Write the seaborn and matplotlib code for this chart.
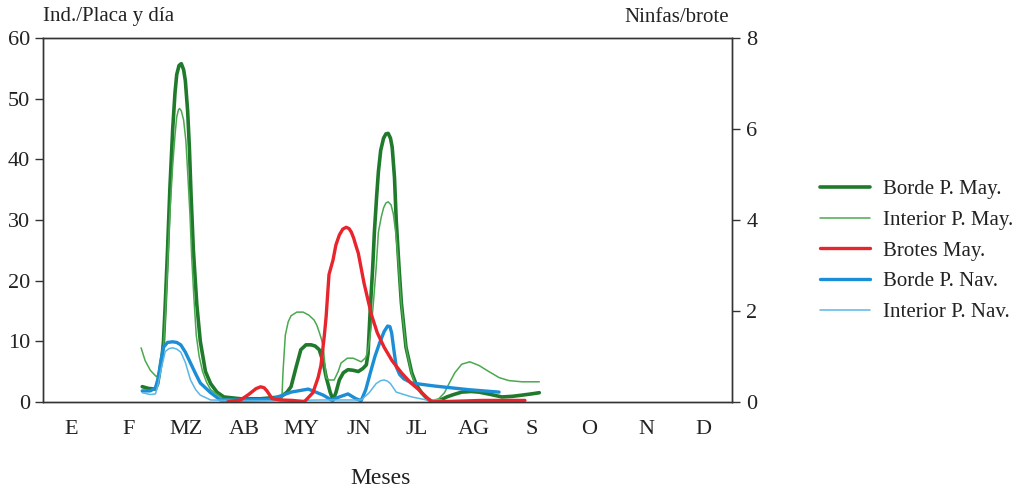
import matplotlib
matplotlib.use("Agg")
import matplotlib.pyplot as plt
import seaborn as sns
from matplotlib.lines import Line2D

# ---- data (x in month units: 0 = start of January, 12 = end of December) ----
months = ["E", "F", "MZ", "AB", "MY", "JN", "JL", "AG", "S", "O", "N", "D"]

borde_may_x = [1.73, 1.84, 1.96, 2.00, 2.05, 2.08, 2.10, 2.13, 2.17, 2.21, 2.26, 2.30, 2.33, 2.37, 2.41,
               2.45, 2.48, 2.52, 2.55, 2.58, 2.62, 2.68, 2.74, 2.83, 2.92, 3.03, 3.15, 3.44, 3.79,
               4.14, 4.25, 4.32, 4.41, 4.49, 4.58, 4.67, 4.74, 4.81, 4.88, 4.93, 5.00, 5.05, 5.10,
               5.16, 5.23, 5.31, 5.40, 5.49, 5.57, 5.63, 5.66, 5.70, 5.74, 5.77, 5.81, 5.84, 5.88,
               5.93, 5.97, 6.01, 6.05, 6.08, 6.12, 6.15, 6.20, 6.24, 6.32, 6.42, 6.50, 6.59, 6.70,
               6.80, 6.92, 7.03, 7.15, 7.29, 7.45, 7.59, 7.80, 7.99, 8.17, 8.34, 8.50, 8.64]
borde_may_y = [2.5, 2.2, 2.1, 3.0, 6.0, 8.0, 10.0, 16.0, 25.0, 35.0, 45.0, 51.0, 54.0, 55.5, 55.8,
               54.8, 53.0, 48.0, 42.0, 34.0, 25.0, 16.0, 10.0, 5.0, 3.0, 1.6, 0.8, 0.5, 0.5,
               0.8, 1.6, 2.5, 5.8, 8.6, 9.4, 9.4, 9.2, 8.6, 6.5, 4.1, 1.6, 0.3, 1.5,
               3.6, 4.8, 5.3, 5.2, 5.0, 5.5, 6.1, 8.0, 15.6, 22.0, 28.0, 34.0, 38.0, 41.5,
               43.5, 44.2, 44.3, 43.5, 42.0, 37.0, 30.0, 22.0, 16.3, 9.0, 4.8, 2.8, 1.5, 0.4,
               0.0, 0.3, 0.8, 1.2, 1.6, 1.7, 1.6, 1.2, 0.8, 0.9, 1.1, 1.3, 1.5]

interior_may_x = [1.71, 1.78, 1.87, 1.98, 2.05, 2.10, 2.13, 2.17, 2.21, 2.26, 2.30, 2.33, 2.36, 2.38,
                  2.41, 2.45, 2.49, 2.52, 2.56, 2.59, 2.63, 2.67, 2.72, 2.78, 2.85, 2.92, 3.13, 3.44,
                  3.97, 4.16, 4.18, 4.22, 4.27, 4.32, 4.42, 4.53, 4.63, 4.72, 4.77, 4.81, 4.85, 4.88,
                  4.93, 4.98, 5.07, 5.14, 5.19, 5.30, 5.40, 5.54, 5.62, 5.66, 5.71, 5.75, 5.80, 5.84,
                  5.89, 5.93, 5.97, 6.01, 6.06, 6.10, 6.14, 6.17, 6.24, 6.32, 6.42, 6.50, 6.59, 6.77,
                  6.89, 6.99, 7.08, 7.17, 7.29, 7.43, 7.59, 7.76, 7.94, 8.11, 8.34, 8.64]
interior_may_y = [8.9, 6.8, 5.2, 4.1, 5.5, 9.0, 14.0, 22.0, 31.0, 39.0, 44.0, 47.0, 48.2, 48.4,
                  48.0, 46.5, 43.0, 38.0, 31.0, 24.0, 17.0, 11.0, 7.5, 5.0, 3.2, 2.0, 0.5, 0.3,
                  0.3, 0.5, 5.0, 11.0, 13.2, 14.2, 14.8, 14.8, 14.3, 13.5, 12.6, 11.5, 10.3, 9.0,
                  4.0, 3.6, 3.6, 5.0, 6.4, 7.2, 7.2, 6.6, 7.3, 8.6, 12.0, 16.0, 22.0, 28.0,
                  30.5, 32.0, 32.8, 33.0, 32.5, 31.0, 28.0, 25.0, 16.0, 9.0, 4.5, 2.5, 1.3, 0.2,
                  0.5, 1.5, 3.2, 4.8, 6.2, 6.6, 6.0, 5.0, 4.0, 3.5, 3.3, 3.3]

# Brotes May. read on the right axis (Ninfas/brote)
brotes_x = [3.22, 3.44, 3.58, 3.71, 3.79, 3.85, 3.90, 3.99, 4.14, 4.35, 4.55, 4.70, 4.79, 4.84, 4.90,
            4.93, 4.98, 5.05, 5.10, 5.16, 5.22, 5.28, 5.33, 5.37, 5.41, 5.44, 5.49, 5.59, 5.72,
            5.82, 5.94, 6.08, 6.24, 6.40, 6.54, 6.66, 6.77, 7.12, 7.64, 8.39]
brotes_y = [0.0, 0.04, 0.16, 0.29, 0.33, 0.31, 0.24, 0.07, 0.04, 0.03, 0.0, 0.2, 0.53, 0.8, 1.47,
            1.87, 2.8, 3.12, 3.45, 3.67, 3.80, 3.84, 3.81, 3.73, 3.6, 3.47, 3.27, 2.61, 1.91,
            1.52, 1.2, 0.9, 0.64, 0.42, 0.27, 0.12, 0.0, 0.01, 0.03, 0.03]

borde_nav_x = [1.73, 1.87, 1.96, 2.01, 2.05, 2.10, 2.17, 2.26, 2.33, 2.40, 2.48, 2.57, 2.66, 2.74, 2.92,
               3.09, 3.44, 3.97, 4.32, 4.62, 4.88, 5.02, 5.16, 5.31, 5.45, 5.54, 5.62, 5.70, 5.78,
               5.86, 5.94, 6.00, 6.04, 6.07, 6.11, 6.15, 6.21, 6.28, 6.42, 6.82, 7.41, 7.94]
borde_nav_y = [1.8, 1.8, 2.3, 4.0, 6.5, 9.0, 9.8, 9.9, 9.8, 9.4, 8.2, 6.4, 4.6, 3.1, 1.5,
               0.3, 0.3, 0.4, 1.6, 2.1, 1.1, 0.3, 0.8, 1.3, 0.5, 0.2, 2.0, 4.8, 7.5,
               9.7, 11.6, 12.5, 12.4, 11.4, 8.5, 5.8, 4.5, 3.8, 3.1, 2.6, 2.0, 1.6]

interior_nav_x = [1.73, 1.87, 1.96, 2.01, 2.05, 2.13, 2.20, 2.26, 2.33, 2.40, 2.48, 2.57, 2.66, 2.74,
                  2.92, 3.44, 4.14, 4.84, 5.54, 5.68, 5.80, 5.88, 5.94, 6.00, 6.05, 6.15, 6.42, 6.68, 6.94]
interior_nav_y = [1.5, 1.2, 1.3, 3.0, 5.0, 8.3, 8.8, 8.9, 8.7, 8.2, 6.5, 3.6, 2.0, 1.1,
                  0.3, 0.2, 0.2, 0.3, 0.3, 1.5, 3.0, 3.5, 3.6, 3.4, 3.0, 1.6, 0.8, 0.3, 0.3]

labels = ["Borde P. May.", "Interior P. May.", "Brotes May.", "Borde P. Nav.", "Interior P. Nav."]

# ---- style ----
sns.set_theme(style="white")
plt.rcParams["font.family"] = ["Liberation Serif", "DejaVu Serif"]
plt.rcParams["lines.solid_joinstyle"] = "round"
plt.rcParams["lines.solid_capstyle"] = "round"

fig = plt.figure(figsize=(10.2, 4.9), dpi=100)
ax = fig.add_axes([0.042, 0.18, 0.676, 0.742])
ax2 = ax.twinx()

c_dg = "#1f7a2c"
c_lg = "#4aa84f"
c_red = "#e8242c"
c_blue = "#1b8ed6"
c_lb = "#5bb6e6"

sns.lineplot(x=borde_may_x, y=borde_may_y, ax=ax, color=c_dg, lw=2.6, sort=False, estimator=None)
sns.lineplot(x=interior_may_x, y=interior_may_y, ax=ax, color=c_lg, lw=1.1, sort=False, estimator=None)
sns.lineplot(x=borde_nav_x, y=borde_nav_y, ax=ax, color=c_blue, lw=2.4, sort=False, estimator=None)
sns.lineplot(x=interior_nav_x, y=interior_nav_y, ax=ax, color=c_lb, lw=1.1, sort=False, estimator=None)
sns.lineplot(x=brotes_x, y=brotes_y, ax=ax2, color=c_red, lw=2.4, sort=False, estimator=None)

ax.set_xlim(0, 12)
ax.set_ylim(0, 60)
ax2.set_ylim(0, 8)
ax.set_yticks(range(0, 61, 10))
ax2.set_yticks(range(0, 9, 2))

ax.set_xticks(range(0, 12))
ax.set_xticklabels([])
ax.set_xticks([i + 0.5 for i in range(12)], minor=True)
ax.set_xticklabels(months, minor=True)
ax.tick_params(axis="x", which="major", direction="out", length=6, width=1, color="#333333")
ax.tick_params(axis="x", which="minor", length=0, pad=13, labelsize=16, labelcolor="#222222")
ax.tick_params(axis="y", direction="out", length=6, width=1, color="#333333", labelsize=16,
               labelcolor="#222222", pad=3)
ax2.tick_params(axis="y", direction="out", length=6, width=1, color="#333333", labelsize=16,
                labelcolor="#222222", pad=4)
ax.set_xlabel("")
ax.set_ylabel("")
ax2.set_ylabel("")

for a in (ax, ax2):
    for s in a.spines.values():
        s.set_visible(True)
        s.set_color("#333333")
        s.set_linewidth(1.0)

fig.text(43 / 1020, 1 - 17 / 490, "Ind./Placa y día", fontsize=15, color="#222222", va="center", ha="left")
fig.text(729 / 1020, 1 - 17 / 490, "Ninfas/brote", fontsize=15, color="#222222", va="center", ha="right")
fig.text(381 / 1020, 1 - 478 / 490, "Meses", fontsize=17, color="#222222", va="center", ha="center")

handles = [Line2D([], [], color=c_dg, lw=2.6), Line2D([], [], color=c_lg, lw=1.1),
           Line2D([], [], color=c_red, lw=2.4), Line2D([], [], color=c_blue, lw=2.4),
           Line2D([], [], color=c_lb, lw=1.1)]
fig.legend(handles, labels, loc="upper left", bbox_to_anchor=(801 / 1020, 1 - 161 / 490),
           frameon=False, fontsize=15, handlelength=2.4, labelspacing=0.53, handletextpad=0.65,
           labelcolor="#222222")

fig.savefig("out.png", dpi=100, facecolor="white")
